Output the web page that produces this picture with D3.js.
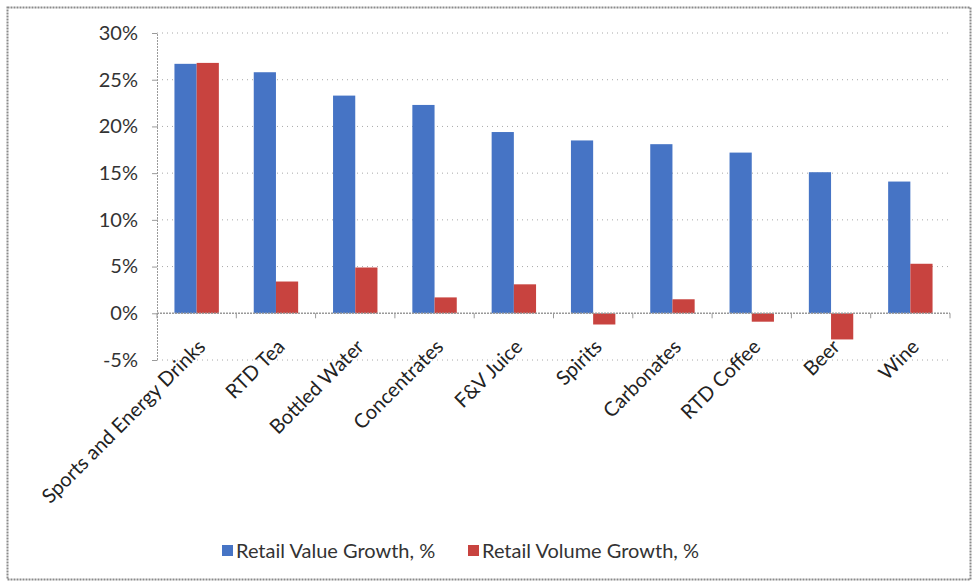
<!DOCTYPE html>
<html><head><meta charset="utf-8">
<script src="https://cdn.jsdelivr.net/npm/d3@7"></script>
<style>
body{margin:0;background:#fff;}
svg{display:block;font-family:Lato,"Open Sans",sans-serif;}
</style></head>
<body><svg id="c" width="977" height="585"></svg>
<script>
const categories = ["Sports and Energy Drinks","RTD Tea","Bottled Water","Concentrates","F&V Juice","Spirits","Carbonates","RTD Coffee","Beer","Wine"];
const valueGrowth = [26.7,25.8,23.3,22.3,19.4,18.5,18.1,17.2,15.1,14.1];
const volumeGrowth = [26.8,3.4,4.9,1.7,3.1,-1.2,1.5,-0.9,-2.8,5.3];
const seriesNames = ["Retail Value Growth, %","Retail Volume Growth, %"];
const seriesColors = ["#4674c5","#c8433f"];
const yTicks = [-5,0,5,10,15,20,25,30];

const svg = d3.select("#c");
const m = {left:157, right:950, top:33, bottom:360};

// outer frame
svg.append("rect").attr("x",7.5).attr("y",7.5).attr("width",963).attr("height",572)
  .attr("fill","none").attr("stroke","#8a8a8a").attr("stroke-width",2).attr("stroke-dasharray","2,1");

const y = d3.scaleLinear().domain([-5,30]).range([m.bottom,m.top]);
const x = d3.scaleBand().domain(categories).range([m.left,m.right]).paddingInner(0.44).paddingOuter(0.22);
const xs = d3.scaleBand().domain([0,1]).range([0,x.bandwidth()]);

// gridlines
svg.append("g").selectAll("line").data(yTicks.filter(t=>t!==0)).join("line")
  .attr("x1",m.left).attr("x2",m.right).attr("y1",d=>y(d)).attr("y2",d=>y(d))
  .attr("stroke","#a8a8a8").attr("stroke-width",1).attr("stroke-dasharray","1,4");

// bars
const data = categories.map((c,i)=>({c, v:[valueGrowth[i], volumeGrowth[i]]}));
const g = svg.append("g");
data.forEach(d=>{
  d.v.forEach((v,k)=>{
    g.append("rect")
      .attr("x", x(d.c)+xs(k)).attr("width", xs.bandwidth())
      .attr("y", y(Math.max(0,v))).attr("height", Math.abs(y(v)-y(0)))
      .attr("fill", seriesColors[k]);
  });
});

// y axis
const ya = d3.axisLeft(y).tickValues(yTicks).tickSize(5).tickFormat(d=>d+"%");
const yg = svg.append("g").attr("transform",`translate(${m.left},0)`).call(ya);
yg.select(".domain").attr("stroke","#9a9a9a").attr("stroke-dasharray","2,1");
yg.selectAll(".tick line").attr("stroke","#9a9a9a");
yg.selectAll(".tick text").attr("font-size",20).attr("fill","#333").attr("x",-19).attr("font-family","Lato,'Open Sans',sans-serif");

// zero baseline with category separators
svg.append("line").attr("x1",m.left).attr("x2",m.right).attr("y1",y(0)).attr("y2",y(0))
  .attr("stroke","#9a9a9a").attr("stroke-width",1.5).attr("stroke-dasharray","2,1");
svg.append("g").selectAll("line").data(d3.range(categories.length+1)).join("line")
  .attr("x1",i=>m.left+i*(m.right-m.left)/categories.length).attr("x2",i=>m.left+i*(m.right-m.left)/categories.length)
  .attr("y1",y(0)).attr("y2",y(0)+5).attr("stroke","#9a9a9a");

// category labels
svg.append("g").selectAll("text").data(categories).join("text")
  .attr("transform",d=>`translate(${x(d)+x.bandwidth()/2+10},${m.bottom-12}) rotate(-45)`)
  .attr("text-anchor","end").attr("font-size",20).attr("fill","#222").text(d=>d);

// legend
const lg = svg.append("g").attr("transform","translate(222,551)");
const lx = [0,246];
seriesNames.forEach((n,k)=>{
  lg.append("rect").attr("x",lx[k]).attr("y",-6).attr("width",11).attr("height",11).attr("fill",seriesColors[k]);
  lg.append("text").attr("x",lx[k]+14).attr("y",7).attr("font-size",20).attr("fill","#333").text(n);
});
</script></body></html>
